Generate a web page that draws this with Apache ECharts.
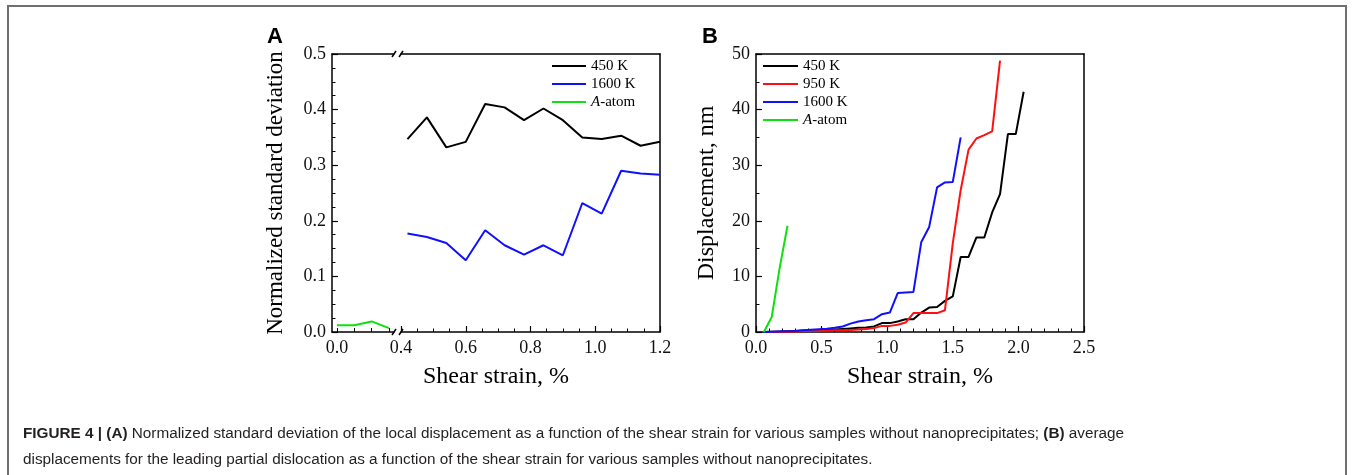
<!DOCTYPE html>
<html>
<head>
<meta charset="utf-8">
<title>Figure 4</title>
<script src="https://cdn.jsdelivr.net/npm/echarts@6/dist/echarts.min.js"></script>
<style>
	html, body { margin: 0; padding: 0; background: #fff; }
	#chart { width: 1354px; height: 475px; }
</style>
</head>
<body>
<div id="chart"></div>
<script>
// ---- panel A: normalized standard deviation ----
const strainA = [0.42, 0.48, 0.54, 0.60, 0.66, 0.72, 0.78, 0.84, 0.90, 0.96, 1.02, 1.08, 1.14, 1.20];
const sd450 = [0.347, 0.386, 0.332, 0.342, 0.410, 0.404, 0.381, 0.402, 0.381, 0.350, 0.347, 0.353, 0.335, 0.342];
const sd1600 = [0.177, 0.171, 0.160, 0.129, 0.183, 0.156, 0.139, 0.156, 0.138, 0.232, 0.213, 0.290, 0.285, 0.283];
const strainAtomA = [0.0, 0.1, 0.2, 0.3];
const sdAtom = [0.012, 0.012, 0.019, 0.007];

// ---- panel B: displacement, nm ----
const strain450 = [0.06, 0.12, 0.18, 0.24, 0.30, 0.36, 0.42, 0.48, 0.54, 0.60, 0.66, 0.72, 0.78, 0.84, 0.90, 0.96, 1.02,
	1.08, 1.14, 1.20, 1.26, 1.32, 1.38, 1.44, 1.50, 1.56, 1.62, 1.68, 1.74, 1.80, 1.86, 1.92, 1.98, 2.04];
const disp450 = [0, 0.05, 0.1, 0.15, 0.2, 0.25, 0.3, 0.35, 0.4, 0.45, 0.55, 0.65, 0.75, 0.8, 1.0, 1.6, 1.6,
	1.9, 2.3, 2.3, 3.5, 4.4, 4.5, 5.6, 6.4, 13.5, 13.5, 17.0, 17.0, 21.5, 24.8, 35.6, 35.6, 43.2];
const strain950 = [0.06, 0.12, 0.18, 0.24, 0.30, 0.36, 0.42, 0.48, 0.54, 0.60, 0.66, 0.72, 0.78, 0.84, 0.90, 0.96,
	1.02, 1.08, 1.14, 1.20, 1.26, 1.32, 1.38, 1.44, 1.50, 1.56, 1.62, 1.68, 1.74, 1.80, 1.86];
const disp950 = [0, 0, 0, 0.05, 0.1, 0.15, 0.2, 0.2, 0.25, 0.3, 0.3, 0.35, 0.45, 0.55, 0.7, 1.1,
	1.1, 1.3, 1.7, 3.4, 3.4, 3.4, 3.4, 3.9, 16.0, 25.5, 32.8, 34.8, 35.4, 36.1, 48.8];
const strain1600 = [0.06, 0.12, 0.18, 0.24, 0.30, 0.36, 0.42, 0.48, 0.54, 0.60, 0.66, 0.72, 0.78,
	0.84, 0.90, 0.96, 1.02, 1.08, 1.14, 1.20, 1.26, 1.32, 1.38, 1.44, 1.50, 1.56];
const disp1600 = [0, 0.05, 0.1, 0.15, 0.2, 0.3, 0.4, 0.5, 0.6, 0.75, 1.0, 1.5, 1.9,
	2.1, 2.3, 3.2, 3.5, 7.0, 7.1, 7.2, 16.2, 18.9, 26.0, 26.9, 27.0, 35.0];
const strainAtomB = [0.06, 0.12, 0.18, 0.24];
const dispAtom = [0, 2.7, 11.5, 19.1];

// tick labels
const ticksA_left = [0.0];
const ticksA_leftMinor = [0.0, 0.1, 0.2, 0.3];

const pairs = (xs, ys) => xs.map((x, i) => [x, ys[i]]);

const serif = "'Liberation Serif', 'Times New Roman', serif";
const sans = "'Liberation Sans', Arial, sans-serif";
const black = "#000";
const axLine = { show: true, onZero: false, lineStyle: { color: black, width: 1.5 } };
const lblStyle = { color: "#111", fontFamily: serif, fontSize: 18 };
// frame-only axis (top / right edges of the plot box)
const edgeAxis = (extra) => Object.assign({
	type: "value", min: 0, max: 1,
	axisLine: axLine, axisTick: { show: false }, axisLabel: { show: false }, splitLine: { show: false }
}, extra);
const legendText = {
	fontFamily: serif, fontSize: 15, color: black, lineHeight: 18,
	rich: { i: { fontFamily: serif, fontSize: 15, fontStyle: "italic", color: black, lineHeight: 18 } }
};

let chart = echarts.init(document.getElementById("chart"));

const option = {
	animation: false,
	backgroundColor: "#fff",
	title: [
		{ text: "A", left: 262, top: 21, textStyle: { fontFamily: sans, fontWeight: "bold", fontSize: 22, color: black } },
		{ text: "B", left: 697, top: 21, textStyle: { fontFamily: sans, fontWeight: "bold", fontSize: 22, color: black } },
		{
			text: "{b|FIGURE 4 | (A)} Normalized standard deviation of the local displacement as a function of the shear strain for various samples without nanoprecipitates; {b|(B)} average\n" +
				"displacements for the leading partial dislocation as a function of the shear strain for various samples without nanoprecipitates.",
			left: 18, top: 416,
			textStyle: {
				fontFamily: sans, fontSize: 15.3, fontWeight: "normal", color: "#231f20", lineHeight: 26,
				rich: { b: { fontFamily: sans, fontSize: 15.3, fontWeight: "bold", color: "#231f20", lineHeight: 26 } }
			}
		}
	],
	legend: [
		{
			data: ["450 K", "1600 K", "A-atom"],
			orient: "vertical", left: 552, top: 57, padding: 0,
			icon: "rect", itemWidth: 34, itemHeight: 2, itemGap: 0,
			formatter: (n) => n === "A-atom" ? "{i|A}-atom" : n,
			textStyle: legendText
		},
		{
			data: ["450 K", "950 K", "1600 K", "A-atom"],
			orient: "vertical", left: 763, top: 57, padding: 0,
			icon: "rect", itemWidth: 35, itemHeight: 2, itemGap: 0,
			formatter: (n) => n === "A-atom" ? "{i|A}-atom" : n,
			textStyle: legendText
		}
	],
	grid: [
		{ left: 332, top: 54, width: 62, height: 278 },   // A, left piece (before the break)
		{ left: 401, top: 54, width: 259, height: 278 },  // A, right piece
		{ left: 332, top: 54, width: 328, height: 278 },  // A, whole width (axis title only)
		{ left: 756, top: 54, width: 328, height: 278 }   // B
	],
	xAxis: [
		{
			gridIndex: 0, type: "value", min: -0.029, max: 0.329,
			axisLine: axLine,
			axisTick: { inside: true, length: 4, customValues: ticksA_leftMinor, lineStyle: { color: black } },
			axisLabel: { customValues: ticksA_left, formatter: (v) => v.toFixed(1), margin: 7, ...lblStyle },
			splitLine: { show: false }
		},
		edgeAxis({ gridIndex: 0, position: "top" }),
		{
			gridIndex: 1, type: "value", min: 0.4, max: 1.2, interval: 0.2,
			axisLine: axLine,
			axisTick: { inside: true, length: 6, lineStyle: { color: black, width: 1.2 } },
			minorTick: { show: true, splitNumber: 4, length: 3.5, lineStyle: { color: black } },
			axisLabel: { formatter: (v) => v.toFixed(1), margin: 7, showMinLabel: true, showMaxLabel: true, ...lblStyle },
			splitLine: { show: false }
		},
		edgeAxis({ gridIndex: 1, position: "top" }),
		{
			gridIndex: 2, type: "value", min: 0, max: 1,
			name: "Shear strain, %", nameLocation: "middle", nameGap: 33,
			nameTextStyle: { fontFamily: serif, fontSize: 24, color: black },
			axisLine: { show: false }, axisTick: { show: false }, axisLabel: { show: false }, splitLine: { show: false }
		},
		{
			gridIndex: 3, type: "value", min: 0, max: 2.5, interval: 0.5,
			name: "Shear strain, %", nameLocation: "middle", nameGap: 33,
			nameTextStyle: { fontFamily: serif, fontSize: 24, color: black },
			axisLine: axLine,
			axisTick: { inside: true, length: 6, lineStyle: { color: black, width: 1.2 } },
			minorTick: { show: true, splitNumber: 5, length: 3.5, lineStyle: { color: black } },
			axisLabel: { formatter: (v) => v.toFixed(1), margin: 7, ...lblStyle },
			splitLine: { show: false }
		},
		edgeAxis({ gridIndex: 3, position: "top" })
	],
	yAxis: [
		{
			gridIndex: 0, type: "value", min: 0, max: 0.5, interval: 0.1,
			name: "Normalized standard deviation", nameLocation: "middle", nameGap: 45,
			nameTextStyle: { fontFamily: serif, fontSize: 23, color: black },
			axisLine: axLine,
			axisTick: { inside: true, length: 6, lineStyle: { color: black, width: 1.2 } },
			minorTick: { show: true, splitNumber: 4, length: 3.5, lineStyle: { color: black } },
			axisLabel: { formatter: (v) => v.toFixed(1), margin: 6, ...lblStyle },
			splitLine: { show: false }
		},
		{
			gridIndex: 1, type: "value", min: 0, max: 0.5, position: "right",
			axisLine: axLine, axisTick: { show: false }, axisLabel: { show: false }, splitLine: { show: false }
		},
		{ gridIndex: 2, type: "value", show: false },
		{
			gridIndex: 3, type: "value", min: 0, max: 50, interval: 10,
			name: "Displacement, nm", nameLocation: "middle", nameGap: 37,
			nameTextStyle: { fontFamily: serif, fontSize: 24, color: black },
			axisLine: axLine,
			axisTick: { inside: true, length: 6, lineStyle: { color: black, width: 1.2 } },
			minorTick: { show: true, splitNumber: 2, length: 3.5, lineStyle: { color: black } },
			axisLabel: { margin: 6, ...lblStyle },
			splitLine: { show: false }
		},
		edgeAxis({ gridIndex: 3, position: "right" })
	],
	series: [
		// panel A
		{ name: "450 K", type: "line", xAxisIndex: 2, yAxisIndex: 1, data: pairs(strainA, sd450),
			symbol: "none", lineStyle: { color: "#000000", width: 2 }, itemStyle: { color: "#000000" } },
		{ name: "1600 K", type: "line", xAxisIndex: 2, yAxisIndex: 1, data: pairs(strainA, sd1600),
			symbol: "none", lineStyle: { color: "#1010ff", width: 2 }, itemStyle: { color: "#1010ff" } },
		{ name: "A-atom", type: "line", xAxisIndex: 0, yAxisIndex: 0, data: pairs(strainAtomA, sdAtom),
			symbol: "none", lineStyle: { color: "#10e010", width: 2 }, itemStyle: { color: "#10e010" } },
		// panel B
		{ name: "450 K", type: "line", xAxisIndex: 5, yAxisIndex: 3, data: pairs(strain450, disp450),
			symbol: "none", lineStyle: { color: "#000000", width: 2 }, itemStyle: { color: "#000000" } },
		{ name: "950 K", type: "line", xAxisIndex: 5, yAxisIndex: 3, data: pairs(strain950, disp950),
			symbol: "none", lineStyle: { color: "#ff1010", width: 2 }, itemStyle: { color: "#ff1010" } },
		{ name: "1600 K", type: "line", xAxisIndex: 5, yAxisIndex: 3, data: pairs(strain1600, disp1600),
			symbol: "none", lineStyle: { color: "#1010ff", width: 2 }, itemStyle: { color: "#1010ff" } },
		{ name: "A-atom", type: "line", xAxisIndex: 5, yAxisIndex: 3, data: pairs(strainAtomB, dispAtom),
			symbol: "none", lineStyle: { color: "#10e010", width: 2 }, itemStyle: { color: "#10e010" } }
	],
	graphic: [
		// outer figure frame
		{ type: "rect", shape: { x: 8, y: 6, width: 1338, height: 500 }, style: { fill: "none", stroke: "#707070", lineWidth: 2 }, z: 0 },
		// axis break marks "//" top and bottom
		{ type: "line", shape: { x1: 392, y1: 57, x2: 396, y2: 51 }, style: { stroke: black, lineWidth: 1.5 } },
		{ type: "line", shape: { x1: 399, y1: 57, x2: 403, y2: 51 }, style: { stroke: black, lineWidth: 1.5 } },
		{ type: "line", shape: { x1: 392, y1: 335, x2: 396, y2: 329 }, style: { stroke: black, lineWidth: 1.5 } },
		{ type: "line", shape: { x1: 399, y1: 335, x2: 403, y2: 329 }, style: { stroke: black, lineWidth: 1.5 } }
	]
};

chart.setOption(option);
</script>
</body>
</html>
